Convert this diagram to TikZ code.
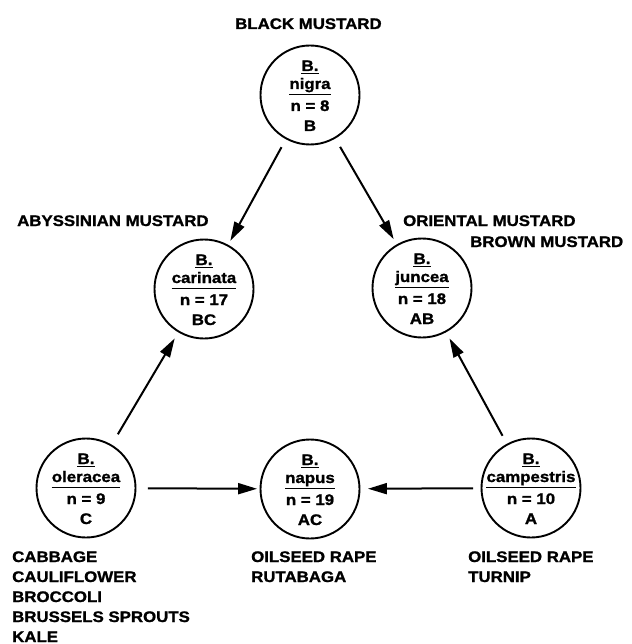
\documentclass[tikz,border=0pt]{standalone}
\usepackage{fontspec}
\setmainfont{Liberation Sans}[FakeStretch=1.1,BoldFeatures={FakeBold=1.3}]
\usetikzlibrary{arrows.meta,calc}
\tikzset{
  spc/.style={circle,draw,line width=1.9pt,minimum size=99pt,inner sep=0pt},
  txt/.style={inner sep=0pt,anchor=base,font=\bfseries\fontsize{15.3}{20}\selectfont},
  lab/.style={inner sep=0pt,anchor=base west,align=left,font=\bfseries\fontsize{15.3}{20}\selectfont},
  ulin/.style={line width=1.1pt},
  barl/.style={line width=1.5pt},
  arr/.style={line width=2pt,-{Triangle[length=19pt,width=11pt]}}
}
\newcommand\brnode[5]{%
  \node[spc] (#1) at (#2) {};
  \node[txt] (#1-g) at ($(#1.center)+(0,-24)$) {B.};
  \draw[ulin] ($(#1-g.base west)+(0,2.6)$) -- ($(#1-g.base east)+(0,2.6)$);
  \node[txt] (#1-s) at ($(#1.center)+(0,-6)$) {#3};
  \draw[barl] ($(#1-s.base west)+(0,5.5)$) -- ($(#1-s.base east)+(0,5.5)$);
  \node[txt] (#1-n) at ($(#1.center)+(0,16)$) {n = #4};
  \node[txt] (#1-l) at ($(#1.center)+(0,36)$) {#5};
}
\begin{document}
\begin{tikzpicture}[x=1pt,y=-1pt]
\useasboundingbox (0,0) rectangle (631,644);
\brnode{nigra}{310,95}{nigra}{8}{B}
\brnode{carinata}{204,289}{carinata}{17}{BC}
\brnode{juncea}{422,288}{juncea}{18}{AB}
\brnode{oleracea}{86,488}{oleracea}{9}{C}
\brnode{napus}{310,489}{napus}{19}{AC}
\brnode{campestris}{531,488}{campestris}{10}{A}

\draw[arr,shorten <=9pt,shorten >=4.5pt] (nigra) -- (carinata);
\draw[arr,shorten <=9.5pt,shorten >=6pt] (nigra) -- (juncea);
\draw[arr,shorten <=12pt,shorten >=7pt] (oleracea) -- (carinata);
\draw[arr,shorten <=9pt,shorten >=7pt] (campestris) -- (juncea);
\draw[arr,shorten <=11.5pt,shorten >=2.5pt] (oleracea) -- (napus);
\draw[arr,shorten <=7.5pt,shorten >=7.5pt] (campestris) -- (napus);

\node[lab] (lblack) at (235,29) {BLACK MUSTARD};
\node[lab] (labys) at (17,226) {ABYSSINIAN MUSTARD};
\node[lab] (lorient) at (403,226) {ORIENTAL MUSTARD};
\node[lab] (lbrown) at (470,247) {BROWN MUSTARD};
\node[lab] (lolera) at (12,642) {CABBAGE\\CAULIFLOWER\\BROCCOLI\\BRUSSELS SPROUTS\\KALE};
\node[lab] (lnapus) at (251,582) {OILSEED RAPE\\RUTABAGA};
\node[lab] (lcamp) at (468,582) {OILSEED RAPE\\TURNIP};
\end{tikzpicture}
\end{document}
